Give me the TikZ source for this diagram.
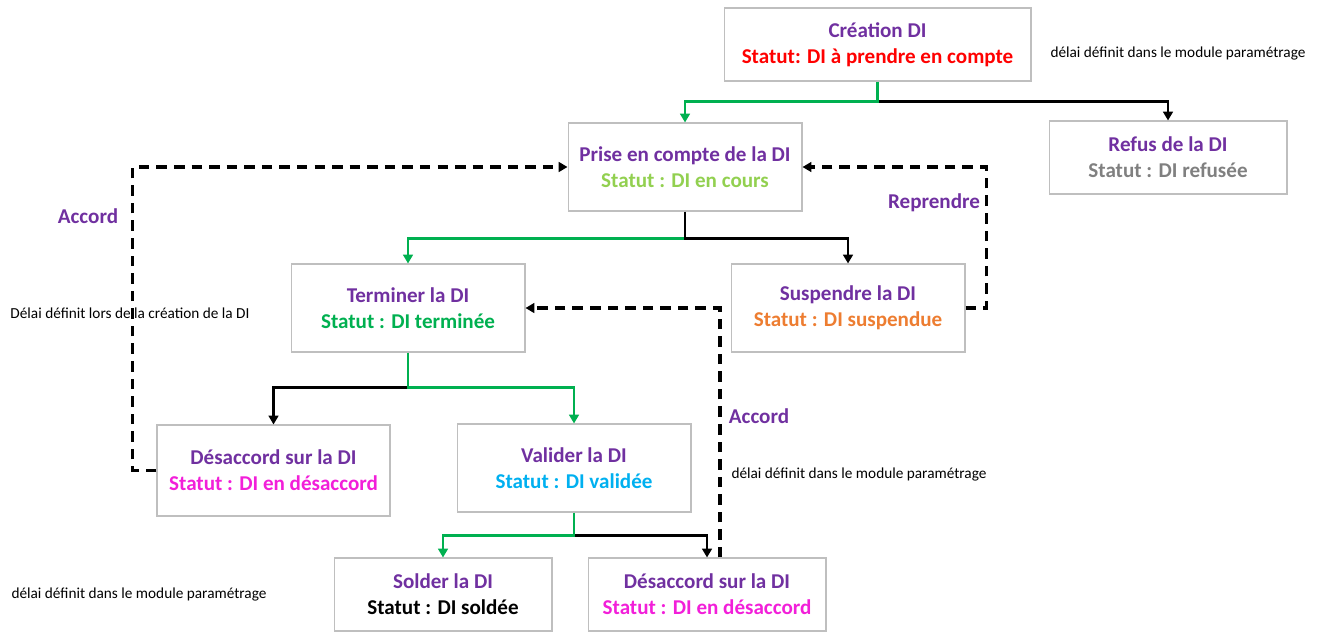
\documentclass[tikz,border=0pt]{standalone}
\usepackage{fontspec}
\setmainfont{Carlito}
\usetikzlibrary{arrows.meta}
\definecolor{titre}{HTML}{7030A0}
\definecolor{strouge}{HTML}{FF0000}
\definecolor{stclair}{HTML}{92D050}
\definecolor{stvert}{HTML}{00B050}
\definecolor{storange}{HTML}{ED7D31}
\definecolor{strose}{HTML}{F21FD9}
\definecolor{stbleu}{HTML}{00B0F0}
\definecolor{stgris}{HTML}{808080}
\definecolor{cadre}{HTML}{BFBFBF}

\begin{document}
\begin{tikzpicture}[x=0.02cm, y=-0.02cm,
  etat/.style={draw=cadre, line width=0.6pt, align=center, inner sep=0pt,
    font=\bfseries\fontsize{12}{14.7}\selectfont},
  vert/.style={draw=stvert, line width=1.5pt, -{Triangle[length=5pt,width=5.5pt]}},
  noir/.style={draw=black, line width=1.5pt, -{Triangle[length=5pt,width=5.5pt]}},
  retour/.style={draw=black, line width=2pt, dash pattern=on 6pt off 4pt,
    -{Triangle[length=5pt,width=5.5pt]}},
  lien/.style={text=titre, font=\bfseries\fontsize{12}{14.7}\selectfont},
  note/.style={font=\fontsize{8.7}{10}\selectfont}]
  \useasboundingbox (0,0) rectangle (1324,636);

  \node [etat, minimum width=6.14cm, minimum height=1.46cm] at (877.5, 44.5) (crea)
    {\color{titre}Création DI\\\color{strouge}Statut: DI à prendre en compte};
  \node [etat, minimum width=4.76cm, minimum height=1.46cm] at (1168, 157.5) (refus)
    {\color{titre}Refus de la DI\\\color{stgris}Statut : DI refusée};
  \node [etat, minimum width=4.68cm, minimum height=1.76cm] at (685, 167) (prise)
    {\color{titre}Prise en compte de la DI\\\color{stclair}Statut : DI en cours};
  \node [etat, minimum width=4.68cm, minimum height=1.76cm] at (408, 308) (term)
    {\color{titre}Terminer la DI\\\color{stvert}Statut : DI terminée};
  \node [etat, minimum width=4.68cm, minimum height=1.76cm] at (848, 308) (susp)
    {\color{titre}Suspendre la DI\\\color{storange}Statut : DI suspendue};
  \node [etat, minimum width=4.66cm, minimum height=1.82cm] at (273.5, 470.5) (desac1)
    {\color{titre}Désaccord sur la DI\\\color{strose}Statut : DI en désaccord};
  \node [etat, minimum width=4.68cm, minimum height=1.76cm] at (574, 468) (valid)
    {\color{titre}Valider la DI\\\color{stbleu}Statut : DI validée};
  \node [etat, minimum width=4.36cm, minimum height=1.46cm] at (443, 594.5) (solder)
    {\color{titre}Solder la DI\\\color{black}Statut : DI soldée};
  \node [etat, minimum width=4.76cm, minimum height=1.46cm] at (707, 594.5) (desac2)
    {\color{titre}Désaccord sur la DI\\\color{strose}Statut : DI en désaccord};

  \node [note] at (1178, 54) (n1) {délai définit dans le module paramétrage};
  \node [note] at (130, 313) (n2) {Délai définit lors de la création de la DI};
  \node [note] at (859, 474) (n3) {délai définit dans le module paramétrage};
  \node [note] at (139, 594) (n4) {délai définit dans le module paramétrage};

  \node [lien] at (88, 216) (acc1) {Accord};
  \node [lien] at (934, 203) (repr) {Reprendre};
  \node [lien] at (759, 416) (acc2) {Accord};

  \draw [noir] (crea.south) ++(0,20) -| (refus.north);
  \draw [vert] (crea.south) -- ++(0,20) -| (prise.north);
  \draw [vert] (prise.south) ++(0,27) -| (term.north);
  \draw [noir] (prise.south) -- ++(0,27) -| (susp.north);
  \draw [noir] (term.south) ++(0,35) -| (desac1.north);
  \draw [vert] (term.south) -- ++(0,35) -| (valid.north);
  \draw [noir] (valid.south) ++(0,23) -| (desac2.north);
  \draw [vert] (valid.south) -- ++(0,23) -| (solder.north);

  \draw [retour] (desac1.west) -- ++(-24,0) |- (prise.west);
  \draw [retour] (susp.east) -- ++(21,0) |- (prise.east);
  \draw [retour] (desac2.north) ++(13,0) |- (term.east);
\end{tikzpicture}
\end{document}
